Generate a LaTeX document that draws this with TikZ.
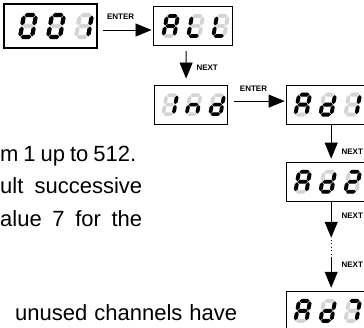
\documentclass[tikz,border=0pt]{standalone}
\usepackage{fontspec}
\setmainfont{Liberation Sans}
\usetikzlibrary{arrows.meta, positioning}

% seven-segment digits
\def\sg{0.5}
\def\st{1.95}
\newcommand\segH[3]{(#1+\sg,#3) -- (#1+\sg+\st,#3-\st) -- (#2-\sg-\st,#3-\st) -- (#2-\sg,#3) -- (#2-\sg-\st,#3+\st) -- (#1+\sg+\st,#3+\st) -- cycle}
\newcommand\segV[3]{(#3,#1+\sg) -- (#3+\st,#1+\sg+\st) -- (#3+\st,#2-\sg-\st) -- (#3,#2-\sg) -- (#3-\st,#2-\sg-\st) -- (#3-\st,#1+\sg+\st) -- cycle}
\newcommand\segA{\segH{-5.5}{5.5}{-10}}
\newcommand\segB{\segV{-10}{0}{5.5}}
\newcommand\segC{\segV{0}{10}{5.5}}
\newcommand\segD{\segH{-5.5}{5.5}{10}}
\newcommand\segE{\segV{0}{10}{-5.5}}
\newcommand\segF{\segV{-10}{0}{-5.5}}
\newcommand\segG{\segH{-5.5}{5.5}{0}}
\def\gZero{A,B,C,D,E,F}
\def\gOne{B,C}
\def\gTwo{A,B,D,E,G}
\def\gSeven{A,B,C}
\def\gA{A,B,C,E,F,G}
\def\gL{D,E,F}
\def\gI{B,C}
\def\gn{C,E,G}
\def\gd{B,C,D,E,G}
\newcommand\segdigit[3]{%
  \begin{scope}[shift={#1}, scale=#2, xslant=0.18]
    \foreach \s in {A,B,C,D,E,F,G} {\fill[segoff] \csname seg\s\endcsname;}
    \foreach \s in #3 {\fill[segon] \csname seg\s\endcsname;}
  \end{scope}}
\newcommand\segdisplay[7]{%
  \begin{scope}[shift={(#1.center)}]
    \segdigit{(#2-#4,0)}{#3}{#5}
    \segdigit{(#2,0)}{#3}{#6}
    \segdigit{(#2+#4,0)}{#3}{#7}
  \end{scope}}

\begin{document}
\begin{tikzpicture}[x=1bp, y=-1bp,
    disp/.style={draw=black, line width=1.1bp, rectangle, minimum width=79bp, minimum height=39bp, inner sep=0pt},
    segon/.style={fill=black},
    segoff/.style={fill=black!17},
    arrow/.style={-{Triangle[length=16bp, width=13bp]}, line width=0.8bp, black},
    key/.style={font=\bfseries\fontsize{8bp}{9bp}\selectfont, inner sep=0pt},
    body/.style={font=\fontsize{22bp}{26bp}\selectfont, inner sep=0pt, anchor=base west}
]
\path[use as bounding box, fill=white] (0,0) rectangle (364,328);

\node[disp, minimum width=93bp, minimum height=44bp] (d001) at (50.5,26) {};
\node[disp, right=55bp of d001] (dALL) {};
\node[disp, minimum width=73bp, below=38.5bp of dALL, xshift=-2bp] (dInd) {};
\node[disp, right=58bp of dInd] (dAd1) {};
\node[disp, below=37bp of dAd1] (dAd2) {};
\node[disp, below=89bp of dAd2] (dAd7) {};

\segdisplay{d001}{5.5}{1.09}{28}{\gZero}{\gZero}{\gOne}
\segdisplay{dALL}{3}{1}{25}{\gA}{\gL}{\gL}
\segdisplay{dInd}{3}{0.95}{23.5}{\gI}{\gn}{\gd}
\segdisplay{dAd1}{2}{1}{25}{\gA}{\gd}{\gOne}
\segdisplay{dAd2}{2}{1}{25}{\gA}{\gd}{\gTwo}
\segdisplay{dAd7}{2}{1}{25}{\gA}{\gd}{\gSeven}

\coordinate[below=36bp of dAd2.south, xshift=5.5bp] (dotTop);
\coordinate[above=34bp of dAd7.north, xshift=5.5bp] (dotBot);

\draw[arrow] ([xshift=5bp, yshift=-4bp]d001.east) -- node[key, above=10bp, pos=0.37] (k1) {ENTER} ([xshift=-1bp, yshift=-4bp]dALL.west);
\draw[arrow] ([xshift=-6.5bp, yshift=-5bp]dALL.south) -- node[key, right=10bp, pos=0.6] (k2) {NEXT} ([xshift=-4.5bp, yshift=6bp]dInd.north);
\draw[arrow] ([xshift=6bp, yshift=3.5bp]dInd.east) -- node[key, above=9bp, pos=0.39] (k3) {ENTER} ([xshift=-1bp, yshift=3.5bp]dAd1.west);
\draw[arrow] ([xshift=5.5bp]dAd1.south) -- node[key, right=10bp, pos=0.79] (k4) {NEXT} ([xshift=5.5bp, yshift=3bp]dAd2.north);
\draw[arrow] ([xshift=5.5bp]dAd2.south) -- node[key, right=10bp, pos=0.38] (k5) {NEXT} (dotTop);
\draw[line width=0.8bp, dash pattern=on 0.9bp off 2.6bp] ([yshift=-2bp]dotTop) -- ([yshift=2bp]dotBot);
\draw[arrow] (dotBot) -- node[key, right=10bp, pos=0.27] (k6) {NEXT} ([xshift=5.5bp, yshift=3bp]dAd7.north);

\node[body] (t1) at (0,161) {\makebox[136bp][s]{m 1 up to 512.}};
\node[body] (t2) at (0,193.5) {\makebox[142bp][s]{ult successive}};
\node[body] (t3) at (0,226) {\makebox[142bp][s]{alue 7 for the}};
\node[body] (t4) at (15,320) {\makebox[222bp][s]{unused channels have}};
\end{tikzpicture}
\end{document}
